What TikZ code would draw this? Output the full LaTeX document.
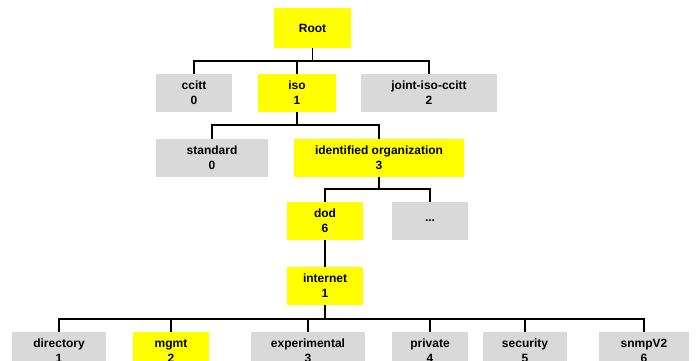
\documentclass[tikz,border=0pt]{standalone}
\usepackage{fontspec}
\setmainfont{Liberation Sans}
\begin{document}
\begin{tikzpicture}[x=1pt,y=-1pt,
  box/.style={draw=none,minimum height=38pt,inner sep=0pt,align=center,
    font=\bfseries\fontsize{12}{15}\selectfont},
  ybox/.style={box,fill=yellow!95!black!2,fill=yyellow},
  gbox/.style={box,fill=ggray},
  link/.style={draw=black,line width=1.8pt},
]
\definecolor{yyellow}{RGB}{255,255,0}
\definecolor{ggray}{RGB}{217,217,217}
\useasboundingbox (0,0) rectangle (696,361);
\clip (0,0) rectangle (696,361);

% level 0
\node[ybox,minimum width=77pt,minimum height=40pt] (root) at (312.5,28) {Root};
% level 1
\node[gbox,minimum width=76pt] (ccitt) at (194,93) {ccitt\\0};
\node[ybox,minimum width=78pt] (iso) at (297,93) {iso\\1};
\node[gbox,minimum width=136pt] (joint) at (429,93) {joint-iso-ccitt\\2};
% level 2
\node[gbox,minimum width=112pt] (standard) at (212,158) {standard\\0};
\node[ybox,minimum width=170pt] (idorg) at (379,158) {identified organization\\3};
% level 3
\node[ybox,minimum width=76pt] (dod) at (325,221) {dod\\6};
\node[gbox,minimum width=76pt] (more) at (430,221) {...};
% level 4
\node[ybox,minimum width=76pt] (internet) at (325,286) {internet\\1};
% level 5
\node[gbox,minimum width=94pt] (directory) at (59,351) {directory\\1};
\node[ybox,minimum width=76pt] (mgmt) at (171,351) {mgmt\\2};
\node[gbox,minimum width=114pt] (experimental) at (308,351) {experimental\\3};
\node[gbox,minimum width=76pt] (private) at (430,351) {private\\4};
\node[gbox,minimum width=84pt] (security) at (525,351) {security\\5};
\node[gbox,minimum width=90pt] (snmp) at (644,351) {snmpV2\\6};

% connectors
\foreach \c in {ccitt,iso,joint}
  \draw[link] (root.south) -- ++(0,13) -| (\c.north);
\foreach \c in {standard,idorg}
  \draw[link] (iso.south) -- ++(0,13) -| (\c.north);
\foreach \c in {dod,more}
  \draw[link] (idorg.south) -- ++(0,12) -| (\c.north);
\draw[link] (dod.south) -- (internet.north);
\foreach \c in {directory,mgmt,experimental,private,security,snmp}
  \draw[link] (internet.south) -- ++(0,14) -| (\c.north);
\end{tikzpicture}
\end{document}
